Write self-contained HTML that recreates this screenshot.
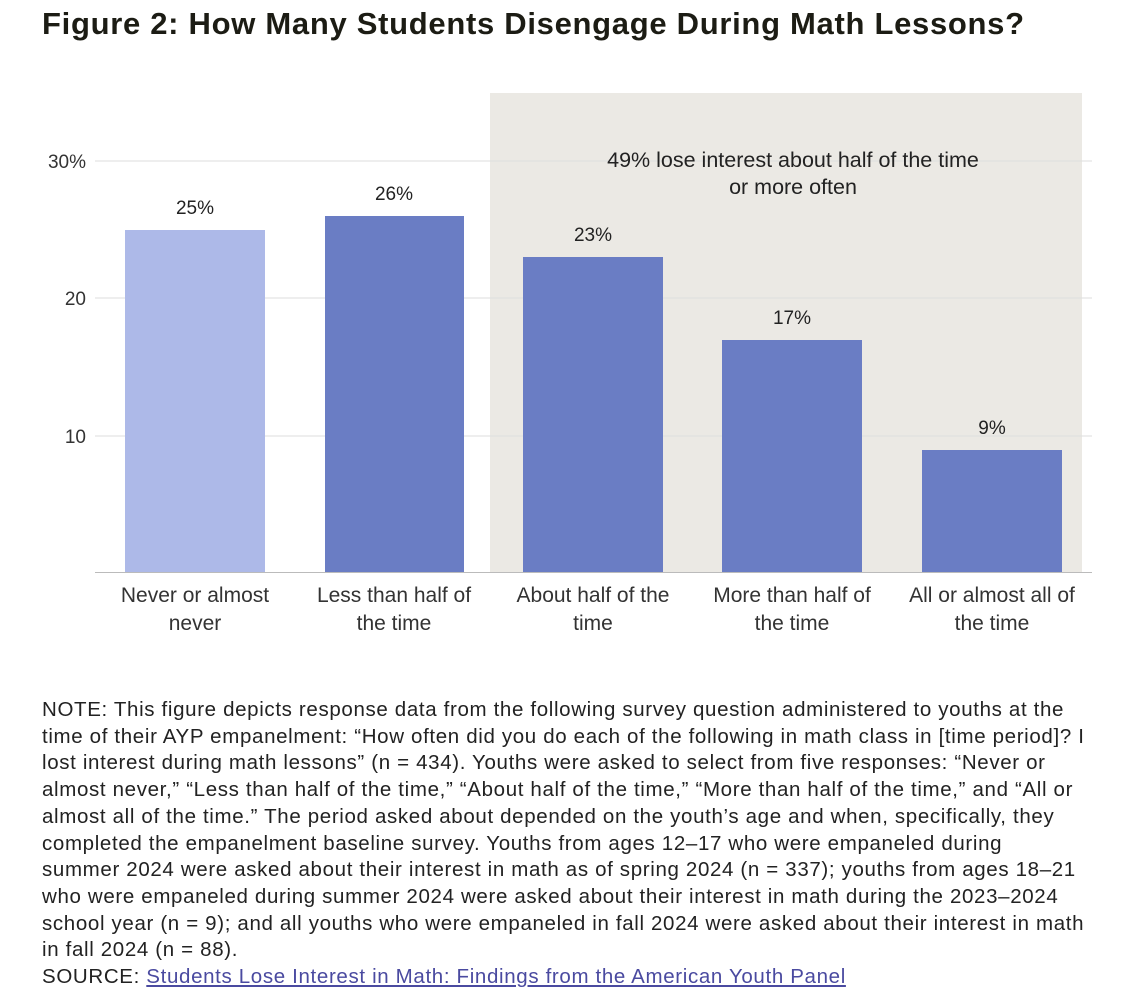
<!DOCTYPE html>
<html><head><meta charset="utf-8"><style>
body{margin:0;background:#fff;width:1147px;height:1007px;overflow:hidden;font-family:"Liberation Sans",sans-serif;color:#222;}
.t{position:absolute;left:42px;top:6px;font-size:31px;font-weight:bold;color:#1c1c14;letter-spacing:0.7px;}
.note{position:absolute;left:42px;top:697px;font-size:20.5px;letter-spacing:0.65px;line-height:26.7px;color:#222;white-space:nowrap;}
.note a{color:#4a4aa0;text-decoration:underline;}
</style></head><body>
<div class="t">Figure 2: How Many Students Disengage During Math Lessons?</div>
<svg width="1147" height="690" style="position:absolute;left:0;top:0" font-family="Liberation Sans, sans-serif">
<rect x="490" y="93" width="592" height="479" fill="#ebe9e4"/>
<g stroke="#dedede" stroke-width="1">
<line x1="95" y1="161" x2="1092" y2="161"/>
<line x1="95" y1="298" x2="1092" y2="298"/>
<line x1="95" y1="436" x2="1092" y2="436"/>
</g>
<line x1="95" y1="572.5" x2="1092" y2="572.5" stroke="#bbb"/>
<g font-size="19" fill="#333" text-anchor="end">
<text x="86" y="168">30%</text>
<text x="86" y="305">20</text>
<text x="86" y="443">10</text>
</g>
<g fill="#6a7dc4">
<rect x="125" y="230" width="140" height="342" fill="#adb9e8"/>
<rect x="325" y="216" width="139" height="356"/>
<rect x="523" y="257" width="140" height="315"/>
<rect x="722" y="340" width="140" height="232"/>
<rect x="922" y="450" width="140" height="122"/>
</g>
<g font-size="19" fill="#222" text-anchor="middle">
<text x="195" y="214">25%</text>
<text x="394" y="200">26%</text>
<text x="593" y="241">23%</text>
<text x="792" y="324">17%</text>
<text x="992" y="434">9%</text>
</g>
<g font-size="21.5" fill="#222" text-anchor="middle">
<text x="793" y="167">49% lose interest about half of the time</text>
<text x="793" y="194">or more often</text>
</g>
<g font-size="21" fill="#333" text-anchor="middle">
<text x="195" y="602">Never or almost</text><text x="195" y="630">never</text>
<text x="394" y="602">Less than half of</text><text x="394" y="630">the time</text>
<text x="593" y="602">About half of the</text><text x="593" y="630">time</text>
<text x="792" y="602">More than half of</text><text x="792" y="630">the time</text>
<text x="992" y="602">All or almost all of</text><text x="992" y="630">the time</text>
</g>
</svg>
<div class="note">NOTE: This figure depicts response data from the following survey question administered to youths at the<br>time of their AYP empanelment: “How often did you do each of the following in math class in [time period]? I<br>lost interest during math lessons” (n = 434). Youths were asked to select from five responses: “Never or<br>almost never,” “Less than half of the time,” “About half of the time,” “More than half of the time,” and “All or<br>almost all of the time.” The period asked about depended on the youth’s age and when, specifically, they<br>completed the empanelment baseline survey. Youths from ages 12–17 who were empaneled during<br>summer 2024 were asked about their interest in math as of spring 2024 (n = 337); youths from ages 18–21<br>who were empaneled during summer 2024 were asked about their interest in math during the 2023–2024<br>school year (n = 9); and all youths who were empaneled in fall 2024 were asked about their interest in math<br>in fall 2024 (n = 88).<br>SOURCE: <a>Students Lose Interest in Math: Findings from the American Youth Panel</a></div>
</body></html>
